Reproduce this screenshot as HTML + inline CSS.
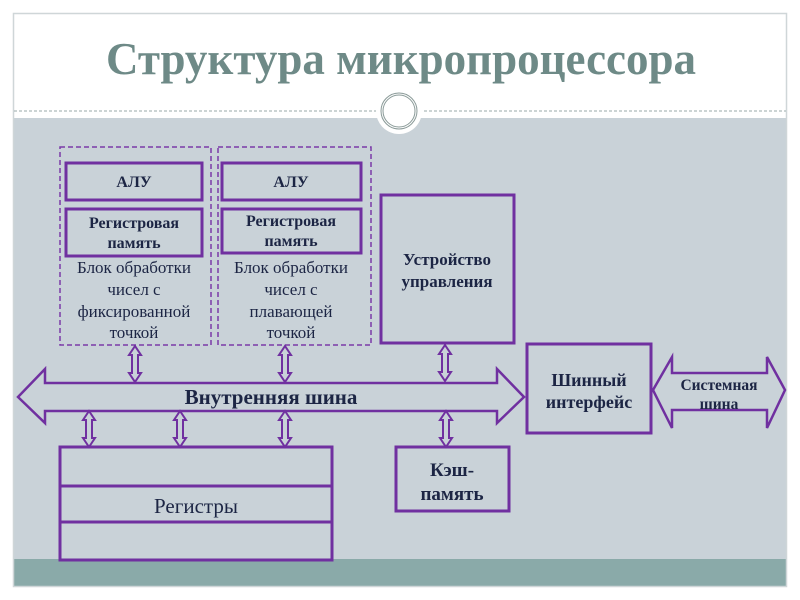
<!DOCTYPE html>
<html><head><meta charset="utf-8"><style>
html,body{margin:0;padding:0;background:#fff;}
svg{display:block;}
text{font-family:"Liberation Serif",serif;fill:#1c2544;}
</style></head><body>
<svg width="800" height="600" viewBox="0 0 800 600" xmlns="http://www.w3.org/2000/svg">
<rect x="0" y="0" width="800" height="600" fill="#fff"/>
<rect x="13" y="118" width="774" height="442" fill="#c9d2d8"/>
<rect x="13" y="559" width="774" height="28" fill="#8aaaa9"/>
<rect x="13.5" y="13.5" width="773" height="573" fill="none" stroke="#cfd6d8" stroke-width="1.5"/>
<line x1="14" y1="111" x2="786" y2="111" stroke="#9aa" stroke-width="1" stroke-dasharray="3,2"/>
<circle cx="399" cy="111" r="23" fill="#fff"/>
<circle cx="399" cy="111" r="17" fill="none" stroke="#8a9a98" stroke-width="3"/>
<circle cx="399" cy="111" r="17" fill="none" stroke="#fff" stroke-width="1"/>
<text x="401" y="74" text-anchor="middle" font-size="45" font-weight="bold" style="fill:#6e8a87">Структура микропроцессора</text>

<g fill="none" stroke="#7a3aa8" stroke-width="1.5" stroke-dasharray="5,3">
<rect x="60" y="147" width="151" height="198"/>
<rect x="218" y="147" width="153" height="198"/>
</g>
<g fill="none" stroke="#7030a0" stroke-width="3">
<rect x="66" y="163" width="136" height="37"/>
<rect x="222" y="163" width="139" height="37"/>
<rect x="66" y="209" width="136" height="47"/>
<rect x="222" y="209" width="139" height="44"/>
<rect x="381" y="195" width="133" height="148"/>
<rect x="527" y="344" width="124" height="89"/>
<rect x="60" y="447" width="272" height="113"/>
<line x1="60" y1="486" x2="332" y2="486"/>
<line x1="60" y1="522" x2="332" y2="522"/>
<rect x="396" y="447" width="113" height="64"/>
<polygon points="18,397 45,369 45,383 497,383 497,369 524,397 497,423 497,411 45,411 45,423" stroke-width="2.5"/>
<polygon points="653,390 672,357 672,373 767,373 767,357 785,390 767,428 767,410 672,410 672,428" stroke-width="2.5"/>
</g>
<g fill="none" stroke="#7030a0" stroke-width="2">
<path d="M-3,-9 L-3,9 L-6,9 L0,18 L6,9 L3,9 L3,-9 L6,-9 L0,-18 L-6,-9 Z" transform="translate(135,364)"/>
<path d="M-3,-9 L-3,9 L-6,9 L0,18 L6,9 L3,9 L3,-9 L6,-9 L0,-18 L-6,-9 Z" transform="translate(285,364)"/>
<path d="M-3,-9 L-3,9 L-6,9 L0,18 L6,9 L3,9 L3,-9 L6,-9 L0,-18 L-6,-9 Z" transform="translate(445,363)"/>
<path d="M-3,-9 L-3,9 L-6,9 L0,18 L6,9 L3,9 L3,-9 L6,-9 L0,-18 L-6,-9 Z" transform="translate(89,429)"/>
<path d="M-3,-9 L-3,9 L-6,9 L0,18 L6,9 L3,9 L3,-9 L6,-9 L0,-18 L-6,-9 Z" transform="translate(180,429)"/>
<path d="M-3,-9 L-3,9 L-6,9 L0,18 L6,9 L3,9 L3,-9 L6,-9 L0,-18 L-6,-9 Z" transform="translate(285,429)"/>
<path d="M-3,-9 L-3,9 L-6,9 L0,18 L6,9 L3,9 L3,-9 L6,-9 L0,-18 L-6,-9 Z" transform="translate(446,429)"/>
</g>

<g font-weight="bold" font-size="16" text-anchor="middle">
<text x="134" y="187">АЛУ</text>
<text x="291" y="187">АЛУ</text>
<text x="134" y="228">Регистровая</text>
<text x="134" y="248">память</text>
<text x="291" y="226">Регистровая</text>
<text x="291" y="246">память</text>
<text x="447" y="265" font-size="17">Устройство</text>
<text x="447" y="287" font-size="17">управления</text>
<text x="271" y="404" font-size="21">Внутренняя шина</text>
<text x="589" y="386" font-size="18">Шинный</text>
<text x="589" y="408" font-size="18">интерфейс</text>
<text x="719" y="390" font-size="15.5">Системная</text>
<text x="719" y="409" font-size="15.5">шина</text>
<text x="452" y="476" font-size="19">Кэш-</text>
<text x="452" y="500" font-size="19">память</text>
</g>
<g font-size="17" text-anchor="middle">
<text x="134" y="273">Блок обработки</text>
<text x="134" y="295">чисел с</text>
<text x="134" y="317">фиксированной</text>
<text x="134" y="338">точкой</text>
<text x="291" y="273">Блок обработки</text>
<text x="291" y="295">чисел с</text>
<text x="291" y="317">плавающей</text>
<text x="291" y="338">точкой</text>
<text x="196" y="513" font-size="21">Регистры</text>
</g>
</svg>
</body></html>
